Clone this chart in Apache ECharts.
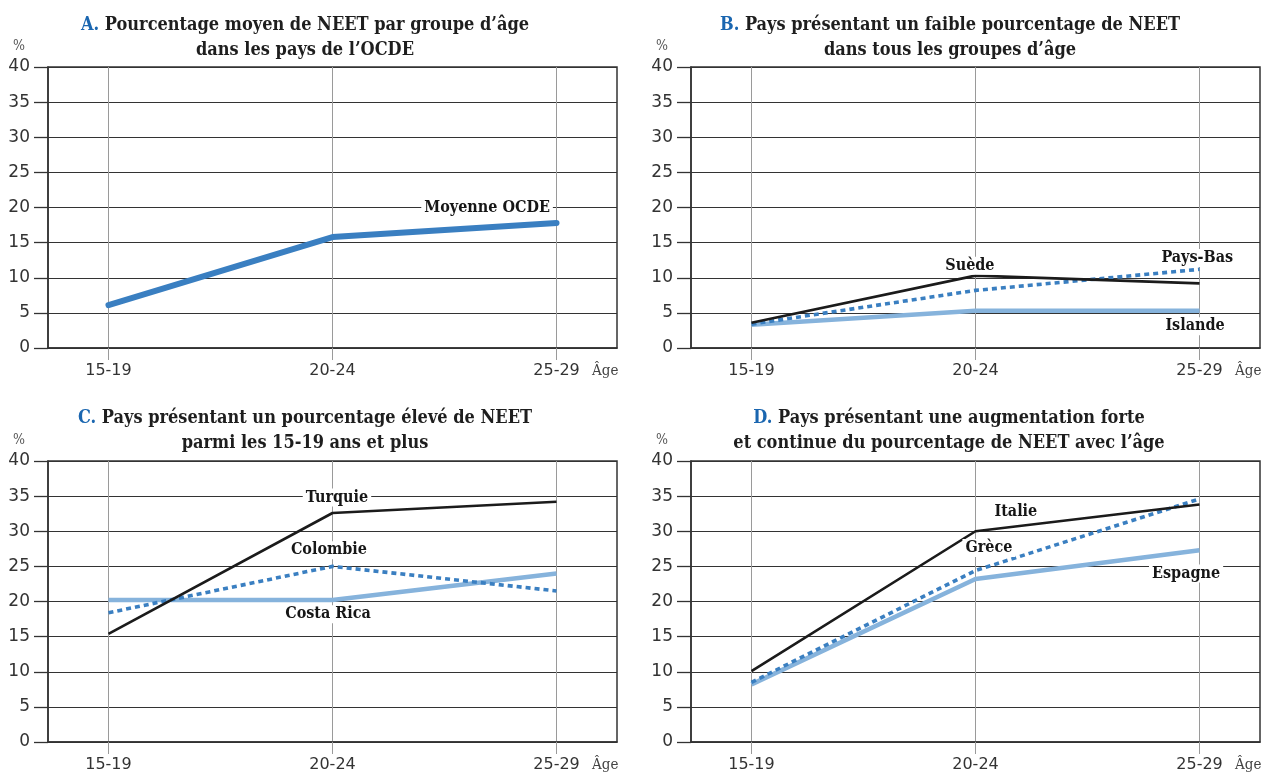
<!DOCTYPE html>
<html>
<head>
<meta charset="utf-8">
<script src="https://cdn.jsdelivr.net/npm/echarts@6/dist/echarts.min.js"></script>
<style>
html,body{margin:0;padding:0;background:#fff;}
#chart{width:1261px;height:776px;}
</style>
</head>
<body>
<div id="chart"></div>
<script>
// ---- Data ----
const ageGroups = ['15-19', '20-24', '25-29'];
const yTickMin = 0, yTickMax = 40, yTickStep = 5;

const moyenneOCDE = [6.1, 15.8, 17.8];

const suede   = [3.6, 10.3, 9.2];
const paysBas = [3.4, 8.2, 11.2];
const islande = [3.3, 5.3, 5.3];

const turquie   = [15.4, 32.6, 34.2];
const colombie  = [18.4, 25.0, 21.5];
const costaRica = [20.2, 20.2, 24.0];

const italie  = [10.1, 30.0, 33.8];
const grece   = [8.5, 24.4, 34.6];
const espagne = [8.2, 23.2, 27.3];

const panelTitles = [
  ['A.', ' Pourcentage moyen de NEET par groupe d\u2019\u00e2ge', 'dans les pays de l\u2019OCDE'],
  ['B.', ' Pays pr\u00e9sentant un faible pourcentage de NEET', 'dans tous les groupes d\u2019\u00e2ge'],
  ['C.', ' Pays pr\u00e9sentant un pourcentage \u00e9lev\u00e9 de NEET', 'parmi les 15-19 ans et plus'],
  ['D.', ' Pays pr\u00e9sentant une augmentation forte', 'et continue du pourcentage de NEET avec l\u2019\u00e2ge']
];
const yUnit = '%';
const xUnit = '\u00c2ge';

// ---- Styles ----
const BLUE = '#3a7fc1';
const LIGHT = '#86b3dc';
const BLACK = '#1b1b1b';
const serif = "'DejaVu Serif Condensed', 'DejaVu Serif', serif";
const sans = "'DejaVu Sans', sans-serif";

const styles = {
  moyenne: {color: BLUE, width: 6, type: 'solid', cap: 'round'},
  black:   {color: BLACK, width: 2.6, type: 'solid', cap: 'butt'},
  dotted:  {color: BLUE, width: 3.6, type: [5, 4], cap: 'butt'},
  light:   {color: LIGHT, width: 4.5, type: 'solid', cap: 'butt'}
};

const panels = [
  {series: [{name: 'Moyenne OCDE', data: moyenneOCDE, style: 'moyenne'}],
   labels: [{name: 'Moyenne OCDE', at: [1.69, 20]}]},
  {series: [{name: 'Islande', data: islande, style: 'light'},
            {name: 'Pays-Bas', data: paysBas, style: 'dotted'},
            {name: 'Suède', data: suede, style: 'black'}],
   labels: [{name: 'Suède', at: [0.975, 11.7]},
            {name: 'Pays-Bas', at: [1.99, 12.8]},
            {name: 'Islande', at: [1.98, 3.1]}]},
  {series: [{name: 'Costa Rica', data: costaRica, style: 'light'},
            {name: 'Colombie', data: colombie, style: 'dotted'},
            {name: 'Turquie', data: turquie, style: 'black'}],
   labels: [{name: 'Turquie', at: [1.02, 34.8]},
            {name: 'Colombie', at: [0.984, 27.3]},
            {name: 'Costa Rica', at: [0.98, 18.2]}]},
  {series: [{name: 'Espagne', data: espagne, style: 'light'},
            {name: 'Grèce', data: grece, style: 'dotted'},
            {name: 'Italie', data: italie, style: 'black'}],
   labels: [{name: 'Italie', at: [1.18, 32.7]},
            {name: 'Grèce', at: [1.06, 27.6]},
            {name: 'Espagne', at: [1.94, 24.0]}]}
];

// ---- Layout ----
const gridPos = [
  {left: 48, top: 67}, {left: 691, top: 67},
  {left: 48, top: 461}, {left: 691, top: 461}
];
const GW = 569, GH = 281;
const titleCenters = [[305, 12.5], [950, 12.5], [305, 405.5], [949, 405.5]];

const catIdx = ageGroups.map((_, i) => i);

const grids = [], xAxes = [], yAxes = [], series = [], graphics = [];

panels.forEach((p, i) => {
  const g = gridPos[i];
  grids.push({
    left: g.left, top: g.top, width: GW, height: GH,
    show: true, borderColor: '#333', borderWidth: 1.5, backgroundColor: 'transparent'
  });
  xAxes.push({
    type: 'value', gridIndex: i, min: -0.27, max: 2.27,
    axisLine: {show: true, onZero: false, lineStyle: {color: '#333', width: 1.5}},
    axisTick: {show: true, customValues: catIdx, length: 12, lineStyle: {color: '#9a9a9a', width: 1}},
    axisLabel: {show: true, customValues: catIdx, formatter: v => ageGroups[Math.round(v)],
      margin: 15, fontSize: 16, fontFamily: sans, color: '#333'},
    splitLine: {show: true, lineStyle: {color: '#9a9a9a', width: 1}}
  });
  yAxes.push({
    type: 'value', gridIndex: i, min: yTickMin, max: yTickMax, interval: yTickStep,
    axisLine: {show: true, onZero: false, lineStyle: {color: '#333', width: 1.5}},
    axisTick: {show: true, length: 14, lineStyle: {color: '#333', width: 1.3}},
    axisLabel: {margin: 18, fontSize: 17, fontFamily: sans, color: '#333'},
    splitLine: {show: true, lineStyle: {color: '#333', width: 1.2}}
  });
  p.series.forEach(s => {
    const st = styles[s.style];
    series.push({
      type: 'line', name: s.name, xAxisIndex: i, yAxisIndex: i,
      data: s.data.map((v, k) => [k, v]),
      symbol: 'none', silent: true, animation: false,
      lineStyle: {color: st.color, width: st.width, type: st.type, cap: st.cap},
      z: 3
    });
  });
  series.push({
    type: 'scatter', xAxisIndex: i, yAxisIndex: i, silent: true, animation: false,
    symbolSize: 1, itemStyle: {color: 'rgba(0,0,0,0)', opacity: 1}, z: 5,
    data: p.labels.map(l => ({name: l.name, value: l.at})),
    label: {show: true, position: 'inside', formatter: '{b}', backgroundColor: '#fff',
      opacity: 1, padding: [1, 3], fontFamily: serif, fontWeight: 'bold', fontSize: 16, color: '#161616'}
  });
  const t = panelTitles[i];
  graphics.push({
    type: 'text', x: titleCenters[i][0], y: titleCenters[i][1], silent: true,
    style: {
      text: '{l|' + t[0] + '}{m|' + t[1] + '}\n{m|' + t[2] + '}',
      align: 'center', verticalAlign: 'top',
      rich: {
        l: {fontFamily: serif, fontWeight: 'bold', fontSize: 18, fill: '#1a66b0', lineHeight: 25},
        m: {fontFamily: serif, fontWeight: 'bold', fontSize: 18, fill: '#1e1e1e', lineHeight: 25}
      }
    }
  });
  // unit labels
  graphics.push({
    type: 'text', x: g.left - 29, y: g.top - 21, silent: true,
    style: {text: yUnit, align: 'center', verticalAlign: 'middle',
      font: '14px ' + serif, fill: '#555'}
  });
  graphics.push({
    type: 'text', x: g.left + GW - 25, y: g.top + GH + 23, silent: true,
    style: {text: xUnit, align: 'left', verticalAlign: 'middle',
      font: '15px ' + serif, fill: '#444'}
  });
});

const chart = echarts.init(document.getElementById('chart'), null, {renderer: 'canvas'});
chart.setOption({
  backgroundColor: '#fff',
  animation: false,
  grid: grids, xAxis: xAxes, yAxis: yAxes, series: series,
  graphic: graphics
});
</script>
</body>
</html>
